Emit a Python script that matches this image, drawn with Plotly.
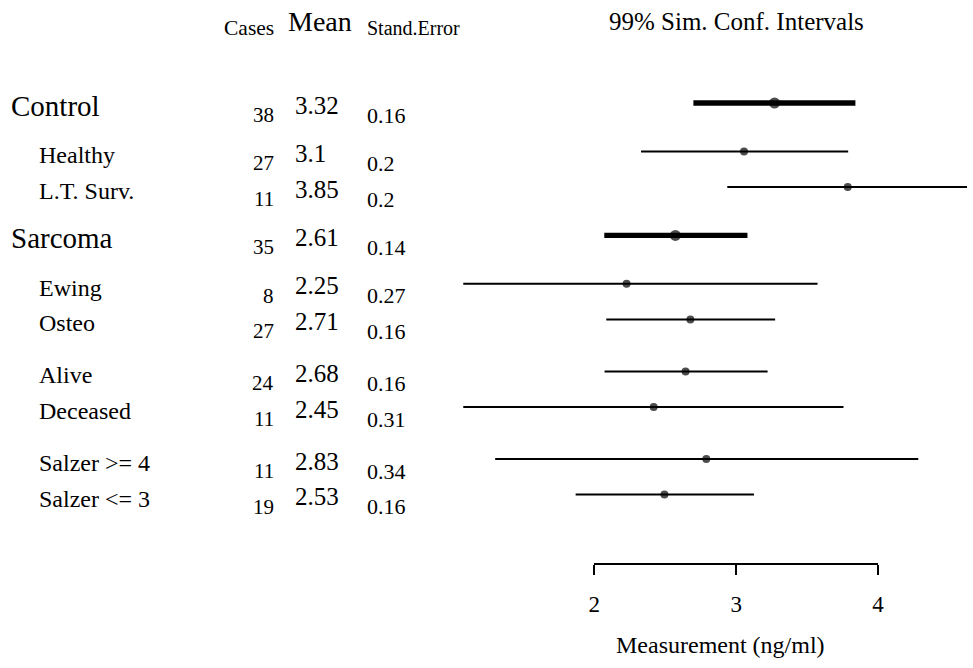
import plotly.graph_objects as go

# ---------------- data ----------------
labels = ["Control", "Healthy", "L.T. Surv.", "Sarcoma", "Ewing", "Osteo",
          "Alive", "Deceased", "Salzer >= 4", "Salzer <= 3"]
is_group = [True, False, False, True, False, False, False, False, False, False]
subgroup = ["Control", "A", "A", "Sarcoma", "B", "B", "C", "C", "D", "D"]
cases = [38, 27, 11, 35, 8, 27, 24, 11, 11, 19]
mean_text = ["3.32", "3.1", "3.85", "2.61", "2.25", "2.71", "2.68", "2.45", "2.83", "2.53"]
se_text = ["0.16", "0.2", "0.2", "0.14", "0.27", "0.16", "0.16", "0.31", "0.34", "0.16"]
est = [3.27, 3.055, 3.786, 2.571, 2.227, 2.677, 2.643, 2.418, 2.789, 2.494]
lower = [2.698, 2.329, 2.937, 2.070, 1.076, 2.084, 2.072, 1.076, 1.301, 1.868]
upper = [3.840, 3.789, 4.64, 3.079, 3.573, 3.274, 3.221, 3.756, 4.283, 3.125]
x_ticks = [2, 3, 4]

FONT = "Liberation Serif, Times New Roman, serif"
W, H = 973, 668

# row positions derived from the group structure
GAP_SAME, GAP_HEADER, GAP_SUB = 1.0, 1.36, 1.46
rows = [0.0]
for i in range(1, len(labels)):
    if is_group[i] or is_group[i - 1]:
        g = GAP_HEADER
    elif subgroup[i] == subgroup[i - 1]:
        g = GAP_SAME
    else:
        g = GAP_SUB
    rows.append(rows[-1] + g)

ROW_PX, TOP_PX = 35.6, 103.0
y_range = [(H - TOP_PX) / ROW_PX, -TOP_PX / ROW_PX]

PX_PER_UNIT = (883.0 - 595.7) / 2.0
x_range = [2 - 595.7 / PX_PER_UNIT, 2 + (W - 595.7) / PX_PER_UNIT]

fig = go.Figure()

for i in range(len(labels)):
    fig.add_trace(go.Scatter(
        x=[lower[i], upper[i]], y=[rows[i], rows[i]], mode="lines",
        line=dict(color="black", width=5.3 if is_group[i] else 2),
        hoverinfo="skip", showlegend=False))

fig.add_trace(go.Scatter(
    x=est, y=rows, mode="markers",
    marker=dict(color="black", size=[11 if g else 8 for g in is_group],
                line=dict(width=0)),
    showlegend=False, hoverinfo="skip"))

# empty trace to materialise the measurement axis subplot
fig.add_trace(go.Scatter(x=[], y=[], xaxis="x2", yaxis="y2", showlegend=False))

ann = []
def add_text(text, x_px, y, size, xanchor="left", yshift=0, yref="y"):
    ann.append(dict(text=text, x=x_px / W, xref="paper", y=y, yref=yref,
                    xanchor=xanchor, yanchor="middle", yshift=yshift,
                    showarrow=False, borderpad=0,
                    font=dict(family=FONT, size=size, color="black")))

for i, lab in enumerate(labels):
    if is_group[i]:
        add_text(lab, 4, rows[i], 29, yshift=-3)
    else:
        add_text(lab, 32.5, rows[i], 24, yshift=-4)
    add_text(str(cases[i]), 272.7, rows[i], 21, xanchor="right", yshift=-12)
    add_text(mean_text[i], 292, rows[i], 25, yshift=-2)
    add_text(se_text[i], 364.7, rows[i], 22, yshift=-12)

# headers
add_text("Cases", 272.7, 1 - 28 / H, 21.5, xanchor="right", yref="paper")
add_text("Mean", 318, 1 - 22 / H, 28, xanchor="center", yref="paper")
add_text("Stand.Error", 365, 1 - 28 / H, 20, yref="paper")
add_text("99% Sim. Conf. Intervals", 739.7, 1 - 21 / H, 25, xanchor="center", yref="paper")
add_text("Measurement (ng/ml)", 723.5, 1 - 645 / H, 24, xanchor="center", yref="paper")

axis_y = 1 - 563.0 / H

fig.update_layout(
    width=W, height=H, autosize=False,
    margin=dict(l=0, r=0, t=0, b=0),
    paper_bgcolor="white", plot_bgcolor="rgba(0,0,0,0)",
    showlegend=False,
    annotations=ann,
    xaxis=dict(domain=[0, 1], range=x_range, visible=False, fixedrange=True),
    yaxis=dict(domain=[0, 1], range=y_range, visible=False, fixedrange=True),
    xaxis2=dict(domain=[595.7 / W, 883.0 / W], range=[2, 4], anchor="y2",
                tickvals=x_ticks, ticktext=[str(t) for t in x_ticks],
                showline=True, linecolor="black", linewidth=1.5,
                ticks="outside", ticklen=10, tickwidth=1.5, tickcolor="black",
                tickfont=dict(family=FONT, size=23, color="black"),
                ticklabelstandoff=10,
                showgrid=False, zeroline=False, fixedrange=True),
    yaxis2=dict(domain=[axis_y, axis_y + 0.03], visible=False, fixedrange=True),
)

fig.write_html("out.html",
               config={"displayModeBar": False, "responsive": False},
               post_script="document.body.style.margin='0px';document.body.style.overflow='hidden';")
